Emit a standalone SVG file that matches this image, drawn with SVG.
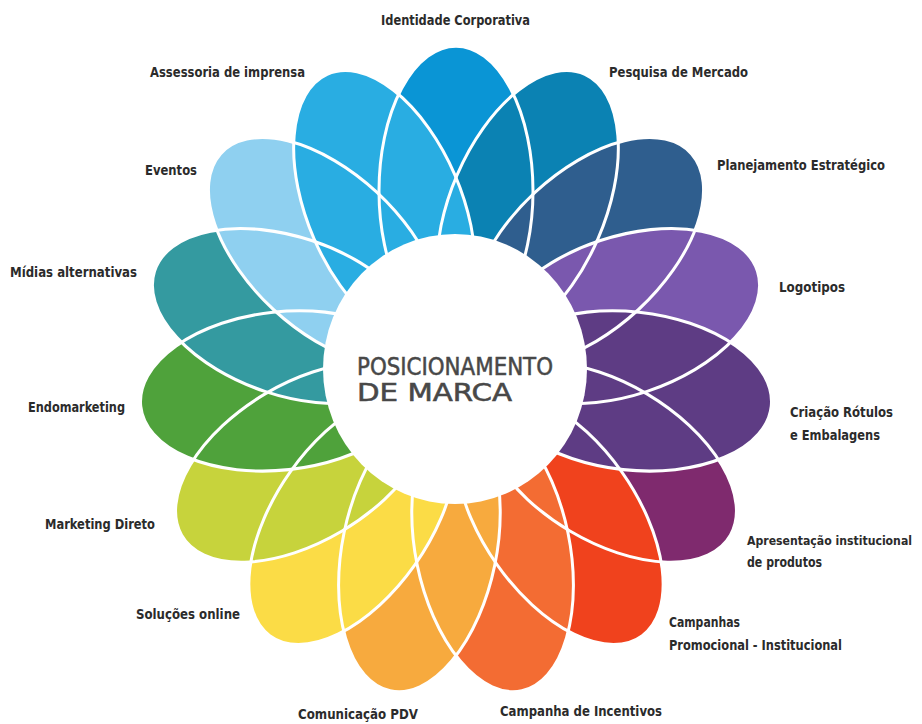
<svg xmlns="http://www.w3.org/2000/svg" xmlns:xlink="http://www.w3.org/1999/xlink" width="922" height="724" viewBox="0 0 922 724">
  <style>
    .lbl { font-family: "DejaVu Sans Condensed", "Liberation Sans Narrow", "Liberation Sans", sans-serif; font-size: 14px; font-weight: bold; fill: #2b2b2b; }
    .lbl.long { font-size: 12.5px; }
    .core { font-family: "DejaVu Sans Condensed", "Liberation Sans", sans-serif; font-size: 24px; fill: #484848; stroke: #484848; stroke-width: 0.5; }
    .edge { fill: none; stroke: #ffffff; stroke-width: 3; vector-effect: non-scaling-stroke; }
  </style>
  <defs>
    <!-- one petal pointing straight up from the flower centre -->
    <ellipse id="petal" cx="0" cy="-176" rx="77" ry="141"/>
  </defs>
  <rect width="922" height="724" fill="#ffffff"/>

  <!-- petals, clockwise from the top; the label sits outside each tip -->
  <g id="identidade-corporativa">
    <use xlink:href="#petal" transform="translate(456,372) scale(1,1.028) rotate(0)" fill="#0a95d5"/>
    <text class="lbl" x="381" y="25" textLength="149" lengthAdjust="spacingAndGlyphs">Identidade Corporativa</text>
  </g>
  <g id="pesquisa-de-mercado">
    <use xlink:href="#petal" transform="translate(456,372) scale(1,1.028) rotate(24)" fill="#0b82b3"/>
    <text class="lbl" x="609" y="77" textLength="139" lengthAdjust="spacingAndGlyphs">Pesquisa de Mercado</text>
  </g>
  <g id="planejamento-estrategico">
    <use xlink:href="#petal" transform="translate(456,372) scale(1,1.028) rotate(48)" fill="#2f5e8e"/>
    <text class="lbl" x="717" y="170" textLength="168" lengthAdjust="spacingAndGlyphs">Planejamento Estratégico</text>
  </g>
  <g id="logotipos">
    <use xlink:href="#petal" transform="translate(456,372) scale(1,1.028) rotate(72)" fill="#7a58ae"/>
    <text class="lbl" x="779" y="292" textLength="66" lengthAdjust="spacingAndGlyphs">Logotipos</text>
  </g>
  <g id="apresentacao-institucional">
    <use xlink:href="#petal" transform="translate(456,372) scale(1,1.028) rotate(120)" fill="#7f2a6e"/>
    <text class="lbl long" x="747" y="545" textLength="165" lengthAdjust="spacingAndGlyphs">Apresentação institucional</text>
    <text class="lbl" x="747" y="567" textLength="75" lengthAdjust="spacingAndGlyphs">de produtos</text>
  </g>
  <g id="campanhas-promocional-institucional">
    <use xlink:href="#petal" transform="translate(456,372) scale(1,1.028) rotate(144)" fill="#f0421d"/>
    <text class="lbl" x="669" y="627" textLength="71" lengthAdjust="spacingAndGlyphs">Campanhas</text>
    <text class="lbl" x="669" y="650" textLength="173" lengthAdjust="spacingAndGlyphs">Promocional - Institucional</text>
  </g>
  <g id="campanha-de-incentivos">
    <use xlink:href="#petal" transform="translate(456,372) scale(1,1.028) rotate(168)" fill="#f36c33"/>
    <text class="lbl" x="500" y="716" textLength="162" lengthAdjust="spacingAndGlyphs">Campanha de Incentivos</text>
  </g>
  <g id="comunicacao-pdv">
    <use xlink:href="#petal" transform="translate(456,372) scale(1,1.028) rotate(192)" fill="#f7aa3e"/>
    <text class="lbl" x="298" y="719" textLength="120" lengthAdjust="spacingAndGlyphs">Comunicação PDV</text>
  </g>
  <g id="solucoes-online">
    <use xlink:href="#petal" transform="translate(456,372) scale(1,1.028) rotate(216)" fill="#fbdc46"/>
    <text class="lbl" x="136" y="619" textLength="104" lengthAdjust="spacingAndGlyphs">Soluções online</text>
  </g>
  <g id="marketing-direto">
    <use xlink:href="#petal" transform="translate(456,372) scale(1,1.028) rotate(240)" fill="#c7d33c"/>
    <text class="lbl" x="45" y="529" textLength="110" lengthAdjust="spacingAndGlyphs">Marketing Direto</text>
  </g>
  <g id="endomarketing">
    <use xlink:href="#petal" transform="translate(456,372) scale(1,1.028) rotate(264)" fill="#4fa23b"/>
    <text class="lbl" x="28" y="412" textLength="97" lengthAdjust="spacingAndGlyphs">Endomarketing</text>
  </g>
  <g id="midias-alternativas">
    <use xlink:href="#petal" transform="translate(456,372) scale(1,1.028) rotate(288)" fill="#349aa0"/>
    <text class="lbl" x="10" y="277" textLength="127" lengthAdjust="spacingAndGlyphs">Mídias alternativas</text>
  </g>
  <g id="eventos">
    <use xlink:href="#petal" transform="translate(456,372) scale(1,1.028) rotate(312)" fill="#8fd0f0"/>
    <text class="lbl" x="145" y="175" textLength="52" lengthAdjust="spacingAndGlyphs">Eventos</text>
  </g>
  <g id="assessoria-de-imprensa">
    <use xlink:href="#petal" transform="translate(456,372) scale(1,1.028) rotate(336)" fill="#29ade2"/>
    <text class="lbl" x="150" y="77" textLength="155" lengthAdjust="spacingAndGlyphs">Assessoria de imprensa</text>
  </g>
  <!-- this petal lies over both of its neighbours, so it is painted last -->
  <g id="criacao-rotulos-embalagens">
    <use xlink:href="#petal" transform="translate(456,372) scale(1,1.028) rotate(96)" fill="#5e3c84"/>
    <text class="lbl" x="790" y="417" textLength="103" lengthAdjust="spacingAndGlyphs">Criação Rótulos</text>
    <text class="lbl" x="790" y="440" textLength="90" lengthAdjust="spacingAndGlyphs">e Embalagens</text>
  </g>

  <!-- white petal outlines, drawn over every fill -->
  <g id="connectors">
    <use class="edge" xlink:href="#petal" transform="translate(456,372) scale(1,1.028) rotate(0)"/>
    <use class="edge" xlink:href="#petal" transform="translate(456,372) scale(1,1.028) rotate(24)"/>
    <use class="edge" xlink:href="#petal" transform="translate(456,372) scale(1,1.028) rotate(48)"/>
    <use class="edge" xlink:href="#petal" transform="translate(456,372) scale(1,1.028) rotate(72)"/>
    <use class="edge" xlink:href="#petal" transform="translate(456,372) scale(1,1.028) rotate(96)"/>
    <use class="edge" xlink:href="#petal" transform="translate(456,372) scale(1,1.028) rotate(120)"/>
    <use class="edge" xlink:href="#petal" transform="translate(456,372) scale(1,1.028) rotate(144)"/>
    <use class="edge" xlink:href="#petal" transform="translate(456,372) scale(1,1.028) rotate(168)"/>
    <use class="edge" xlink:href="#petal" transform="translate(456,372) scale(1,1.028) rotate(192)"/>
    <use class="edge" xlink:href="#petal" transform="translate(456,372) scale(1,1.028) rotate(216)"/>
    <use class="edge" xlink:href="#petal" transform="translate(456,372) scale(1,1.028) rotate(240)"/>
    <use class="edge" xlink:href="#petal" transform="translate(456,372) scale(1,1.028) rotate(264)"/>
    <use class="edge" xlink:href="#petal" transform="translate(456,372) scale(1,1.028) rotate(288)"/>
    <use class="edge" xlink:href="#petal" transform="translate(456,372) scale(1,1.028) rotate(312)"/>
    <use class="edge" xlink:href="#petal" transform="translate(456,372) scale(1,1.028) rotate(336)"/>
  </g>

  <!-- centre disc -->
  <g id="posicionamento-de-marca">
    <ellipse cx="455" cy="369" rx="132" ry="135" fill="#ffffff"/>
    <text class="core" x="357" y="375" textLength="196" lengthAdjust="spacingAndGlyphs">POSICIONAMENTO</text>
    <text class="core" x="357" y="401" textLength="155" lengthAdjust="spacingAndGlyphs">DE MARCA</text>
  </g>
</svg>
